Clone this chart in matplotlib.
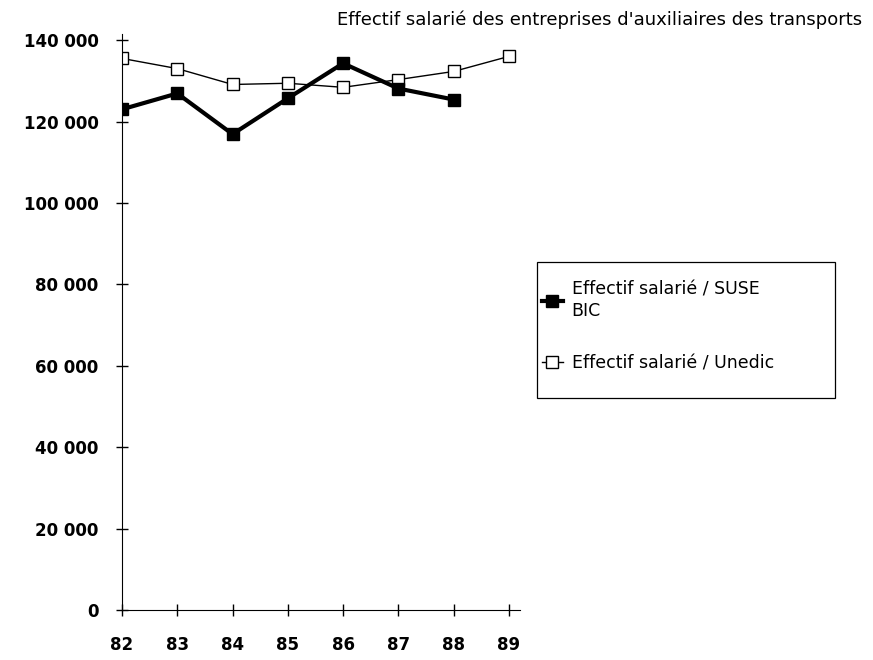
import matplotlib.pyplot as plt
from matplotlib.patches import Rectangle
from matplotlib.ticker import FuncFormatter

plt.rcParams['font.family'] = ['DejaVu Sans']

years = [82, 83, 84, 85, 86, 87, 88, 89]
suse_years = [82, 83, 84, 85, 86, 87, 88]
suse = [123000, 126900, 116900, 125700, 134300, 128100, 125400]
unedic = [135500, 133000, 129100, 129400, 128400, 130300, 132300, 136000]

fig = plt.figure(figsize=(8.73, 6.6), dpi=100)
ax = fig.add_axes([122 / 873, 1 - 610 / 660, (520 - 122) / 873, (610 - 34) / 660])

ax.plot(years, unedic, color="black", lw=1, marker="s", markersize=8,
        markerfacecolor="white", markeredgecolor="black", markeredgewidth=1,
        label="Effectif salarié / Unedic", zorder=2)
ax.plot(suse_years, suse, color="black", lw=3, marker="s", markersize=8.5,
        markerfacecolor="black", label="Effectif salarié / SUSE\nBIC", zorder=3)

ax.set_xlim(82, 89.2)
ax.set_ylim(0, 141500)
ax.set_xticks(years)
ax.set_yticks(range(0, 140001, 20000))
ax.yaxis.set_major_formatter(FuncFormatter(lambda v, p: f"{int(v):,}".replace(",", " ")))

for s in ["top", "right"]:
    ax.spines[s].set_visible(False)
ax.tick_params(direction="inout", length=8, width=1, labelsize=12)
ax.tick_params(axis="y", pad=13)
ax.tick_params(axis="x", pad=15)
for lab in ax.get_xticklabels() + ax.get_yticklabels():
    lab.set_fontweight("bold")

fig.text(862 / 873, 1 - 20 / 660, "Effectif salarié des entreprises d'auxiliaires des transports",
         ha="right", va="center", fontsize=13)

# legend frame
fig.patches.append(Rectangle((537 / 873, 1 - 398 / 660), (835 - 537) / 873, (398 - 262) / 660,
                             transform=fig.transFigure, fill=False, edgecolor="black", lw=0.9))

h, l = ax.get_legend_handles_labels()
leg = ax.legend(h[::-1], l[::-1], loc="upper left",
                bbox_to_anchor=(542 / 873, 1 - 281 / 660), bbox_transform=fig.transFigure,
                frameon=False, fontsize=12.5,
                handlelength=1.2, handletextpad=0.5, labelspacing=2.0,
                borderpad=0, borderaxespad=0)

fig.savefig("out.png", dpi=100)
